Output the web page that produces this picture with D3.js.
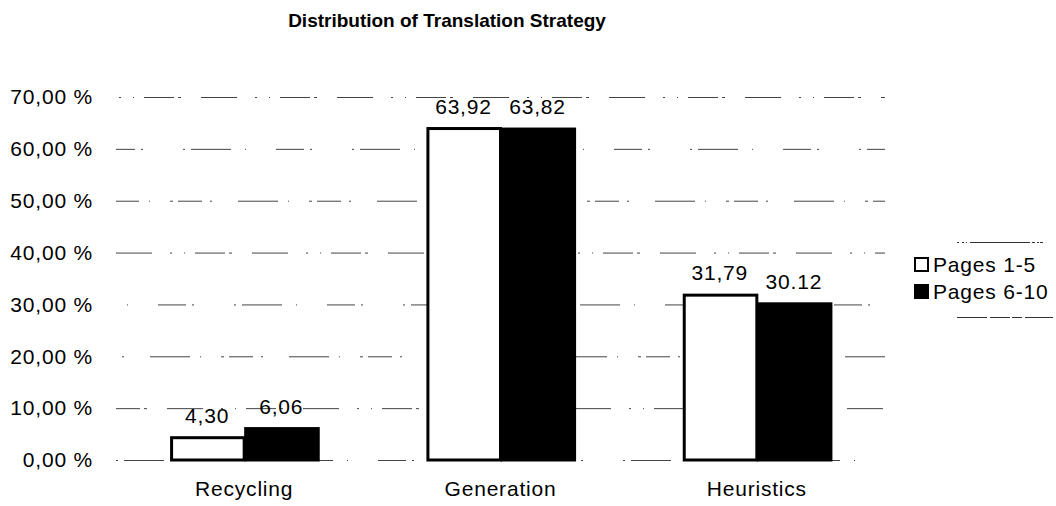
<!DOCTYPE html>
<html lang="en">
<head>
    <meta charset="UTF-8">
    <title>Distribution of Translation Strategy</title>
    <style>
        body { margin: 0; background: #fff; }
        text { font-family: "Liberation Sans", Arial, sans-serif; fill: #000; }
        .lbl { font-size: 21px; letter-spacing: 0.8px; }
    </style>
    <script src="https://d3js.org/d3.v7.min.js"></script>
</head>
<body>
    <script>
    // chart values
    const categories = ["Recycling", "Generation", "Heuristics"];
    const seriesNames = ["Pages 1-5", "Pages 6-10"];
    const pages1to5 = [4.30, 63.92, 31.79];
    const pages6to10 = [6.06, 63.82, 30.12];
    // the scan shows a dot in one label, comma in the rest
    const labels1to5 = ["4,30", "63,92", "31,79"];
    const labels6to10 = ["6,06", "63,82", "30.12"];
    const yTicks = [0, 10, 20, 30, 40, 50, 60, 70];

    const width = 1056, height = 506;

    var svg = d3.select("body")
        .append("svg")
        .attr("width", width)
        .attr("height", height);

    var y = d3.scaleLinear().domain([0, 70]).range([460, 97]);
    var x = d3.scaleBand().domain(categories).range([116, 885]).paddingInner(0);
    var xSub = d3.scaleBand().domain(seriesNames).range([0, x.bandwidth()]).paddingOuter(0.73).paddingInner(0);
    var fillColor = d3.scaleOrdinal().domain(seriesNames).range(["#ffffff", "#000000"]);

    // title
    svg.append("text")
        .attr("x", 447)
        .attr("y", 27)
        .attr("text-anchor", "middle")
        .style("font-weight", "bold")
        .style("font-size", "19px")
        .text("Distribution of Translation Strategy");

    // gridlines, patchy dashes like the scan
    var dashes = ["2,6,40,14,1,30,28,6,2,40", "1,10,30,4,3,20,36,18,2,12", "3,5,24,8,2,26,40,10,1,20"];
    svg.append("g")
        .selectAll("line")
        .data(yTicks)
        .enter()
        .append("line")
        .attr("x1", 116)
        .attr("x2", 885)
        .attr("y1", d => y(d) + 0.5)
        .attr("y2", d => y(d) + 0.5)
        .attr("stroke", "#444")
        .attr("stroke-width", 1)
        .attr("stroke-dasharray", (d, i) => dashes[i % dashes.length])
        .attr("stroke-dashoffset", (d, i) => i * 17);

    // y axis labels
    var yAxis = svg.append("g")
        .attr("transform", "translate(93,0)")
        .call(d3.axisLeft(y).tickValues(yTicks).tickSize(0).tickPadding(0)
            .tickFormat(d => d3.format(".2f")(d).replace(".", ",") + " %"));
    yAxis.select(".domain").remove();
    yAxis.selectAll("text")
        .attr("class", "lbl")
        .attr("font-size", null)
        .attr("font-family", null);

    // bars
    var rows = categories.map((c, i) => ({
        category: c,
        values: [
            {series: seriesNames[0], value: pages1to5[i], label: labels1to5[i]},
            {series: seriesNames[1], value: pages6to10[i], label: labels6to10[i]}
        ]
    }));

    var groups = svg.append("g")
        .selectAll("g")
        .data(rows)
        .enter()
        .append("g")
        .attr("transform", d => "translate(" + x(d.category) + ",0)");

    groups.selectAll("rect")
        .data(d => d.values)
        .enter()
        .append("rect")
        .attr("x", d => xSub(d.series) + 1.5)
        .attr("y", d => y(d.value))
        .attr("width", xSub.bandwidth() - 1.5)
        .attr("height", d => y(0) - y(d.value))
        .attr("fill", d => fillColor(d.series))
        .attr("stroke", "#000")
        .attr("stroke-width", 3);

    groups.selectAll("text")
        .data(d => d.values)
        .enter()
        .append("text")
        .attr("class", "lbl")
        .attr("x", d => xSub(d.series) + xSub.bandwidth() / 2)
        .attr("y", d => y(d.value) - 15)
        .attr("text-anchor", "middle")
        .text(d => d.label);

    // category labels
    var xAxis = svg.append("g")
        .attr("transform", "translate(0,481)")
        .call(d3.axisBottom(x).tickSize(0).tickPadding(0));
    xAxis.select(".domain").remove();
    xAxis.selectAll("text")
        .attr("class", "lbl")
        .attr("font-size", null)
        .attr("font-family", null);
    svg.selectAll(".tick").attr("font-size", null).attr("font-family", null);
    xAxis.attr("font-size", null).attr("font-family", null);
    yAxis.attr("font-size", null).attr("font-family", null);

    // legend
    var legend = svg.append("g").attr("transform", "translate(914,257)");
    legend.append("line")
        .attr("x1", 43).attr("x2", 139).attr("y1", -14.5).attr("y2", -14.5)
        .attr("stroke", "#333").attr("stroke-dasharray", "2,3,2,2,1,3,60");
    legend.append("line")
        .attr("x1", 43).attr("x2", 139).attr("y1", 60.5).attr("y2", 60.5)
        .attr("stroke", "#333").attr("stroke-dasharray", "30,3,20,2,10,3,30");
    var legendItems = legend.selectAll(".legend-item")
        .data(seriesNames)
        .enter()
        .append("g")
        .attr("class", "legend-item")
        .attr("transform", (d, i) => "translate(0," + (i * 27) + ")");
    legendItems.append("rect")
        .attr("x", 1).attr("y", 1)
        .attr("width", 13).attr("height", 13)
        .attr("fill", d => fillColor(d))
        .attr("stroke", "#000")
        .attr("stroke-width", 2);
    legendItems.append("text")
        .attr("class", "lbl")
        .attr("x", 19)
        .attr("y", 15)
        .text(d => d);
    </script>
</body>
</html>
